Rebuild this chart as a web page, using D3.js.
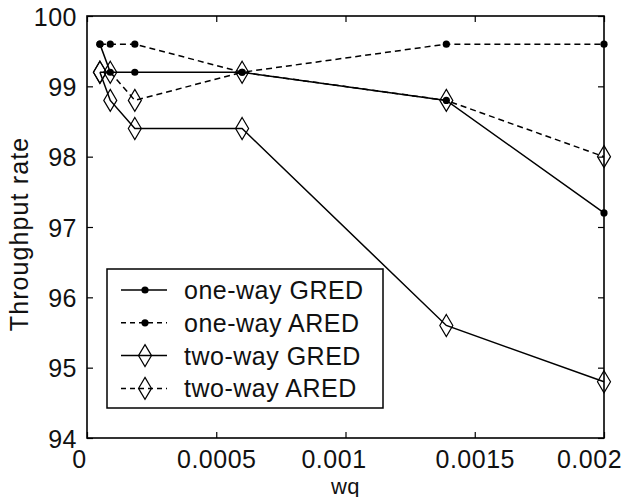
<!DOCTYPE html>
<html><head><meta charset="utf-8">
<script src="https://cdn.jsdelivr.net/npm/d3@7"></script>
<style>
html,body{margin:0;padding:0;background:#fff;}
svg{display:block;}
text{font-family:"Liberation Sans",Arial,Helvetica,sans-serif;font-size:25px;letter-spacing:0.5px;fill:#111;}
</style>
</head><body><svg id="c" width="626" height="497"></svg>
<script>
// ---- data ----
const wq = [0.00005, 0.00009, 0.000185, 0.0006, 0.00139, 0.002];
const oneWayGRED = [99.6, 99.2, 99.2, 99.2, 98.8, 97.2];
const oneWayARED = [99.6, 99.6, 99.6, 99.2, 99.6, 99.6];
const twoWayGRED = [99.2, 98.8, 98.4, 98.4, 95.6, 94.8];
const twoWayARED = [99.2, 99.2, 98.8, 99.2, 98.8, 98.0];
const seriesNames = ["one-way GRED", "one-way ARED", "two-way GRED", "two-way ARED"];
const xTicks = [0, 0.0005, 0.001, 0.0015, 0.002];
const xTickLabels = ["0", "0.0005", "0.001", "0.0015", "0.002"];
const yTicks = [94, 95, 96, 97, 98, 99, 100];
const xTitle = "wq";
const yTitle = "Throughput rate";

// ---- layout ----
const L = 87, R = 604, T = 16, B = 438;
const svg = d3.select("#c");
const x = d3.scaleLinear().domain([0, 0.002]).range([L, R]);
const y = d3.scaleLinear().domain([94, 100]).range([B, T]);

const series = [
  {name: seriesNames[0], vals: oneWayGRED, dash: null, marker: "dot"},
  {name: seriesNames[1], vals: oneWayARED, dash: "6,4", marker: "dot"},
  {name: seriesNames[2], vals: twoWayGRED, dash: null, marker: "diamond"},
  {name: seriesNames[3], vals: twoWayARED, dash: "6,4", marker: "diamond"}
];

// axes (ticks inward)
const labelNudge = {"0": -8, "0.001": -12, "0.002": -15};
const gB = svg.append("g").attr("transform", `translate(0,${B})`)
  .call(d3.axisBottom(x).tickValues(xTicks).tickSize(-6).tickFormat((d, i) => xTickLabels[i]));
gB.selectAll("text").attr("y", 30).attr("dy", null)
  .attr("x", function() { return labelNudge[this.textContent] || 0; });
const gT = svg.append("g").attr("transform", `translate(0,${T})`)
  .call(d3.axisTop(x).tickValues(xTicks).tickSize(-6).tickFormat(""));
const gL = svg.append("g").attr("transform", `translate(${L},0)`)
  .call(d3.axisLeft(y).tickValues(yTicks).tickSize(-6).tickFormat(d3.format("d")));
gL.selectAll("text").attr("x", -10).attr("dy", "0.36em").attr("text-anchor", "end");
const gR = svg.append("g").attr("transform", `translate(${R},0)`)
  .call(d3.axisRight(y).tickValues(yTicks).tickSize(-6).tickFormat(""));
[gB, gT, gL, gR].forEach(g => {
  g.select(".domain").remove();
  g.selectAll("line").attr("stroke", "#000").attr("stroke-width", 1.2);
  g.selectAll("text").attr("fill", "#111");
});

// frame
svg.append("rect").attr("x", L).attr("y", T).attr("width", R - L).attr("height", B - T)
  .attr("fill", "none").attr("stroke", "#000").attr("stroke-width", 1.6);

// titles
svg.append("text").attr("x", x(0.001)).attr("y", 493.5).attr("text-anchor", "middle")
  .style("font-size", "22px").text(xTitle);
svg.append("text").attr("transform", `translate(28,${(T + B) / 2 + 7}) rotate(-90)`)
  .attr("text-anchor", "middle").style("letter-spacing", "1.1px").text(yTitle);

// markers
const diamond = (cx, cy) => `M${cx},${cy - 11}L${cx + 6.5},${cy}L${cx},${cy + 11}L${cx - 6.5},${cy}Z`;
function drawMarker(g, type, cx, cy) {
  if (type === "dot") {
    g.append("circle").attr("cx", cx).attr("cy", cy).attr("r", 3.6).attr("fill", "#000");
  } else {
    g.append("path").attr("d", diamond(cx, cy)).attr("fill", "none")
      .attr("stroke", "#000").attr("stroke-width", 1.2);
  }
}

const line = d3.line().x(d => x(d[0])).y(d => y(d[1]));
const plot = svg.append("g");
series.forEach(s => {
  const pts = wq.map((w, i) => [w, s.vals[i]]);
  plot.append("path").attr("d", line(pts)).attr("fill", "none")
    .attr("stroke", "#000").attr("stroke-width", 1.5)
    .attr("stroke-dasharray", s.dash);
  pts.forEach(p => drawMarker(plot, s.marker, x(p[0]), y(p[1])));
});

// legend
const lg = svg.append("g");
lg.append("rect").attr("x", 107).attr("y", 269).attr("width", 276).attr("height", 139)
  .attr("fill", "#fff").attr("stroke", "#000").attr("stroke-width", 1.5);
series.forEach((s, i) => {
  const cy = 290 + i * 32.8;
  lg.append("line").attr("x1", 121).attr("x2", 167).attr("y1", cy).attr("y2", cy)
    .attr("stroke", "#000").attr("stroke-width", 1.5).attr("stroke-dasharray", s.dash ? "5,4" : null);
  drawMarker(lg, s.marker, 145, cy);
  lg.append("text").attr("x", 184).attr("y", cy + 9).text(s.name);
});
</script>
</body></html>
